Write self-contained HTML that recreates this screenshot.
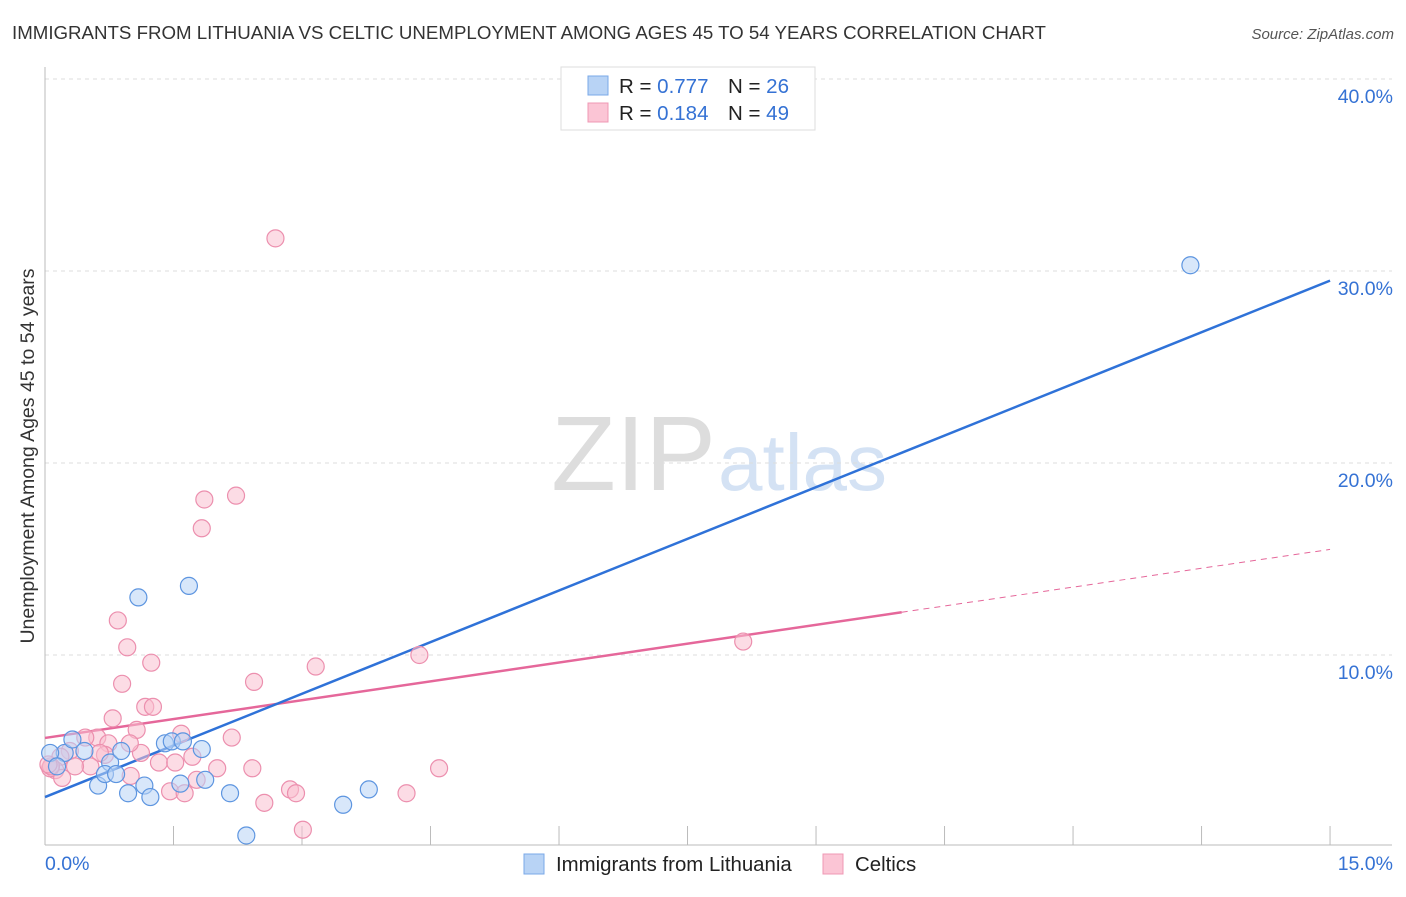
<!DOCTYPE html>
<html><head><meta charset="utf-8"><style>
body{margin:0;background:#fff;font-family:"Liberation Sans",sans-serif}
svg text{font-family:"Liberation Sans",sans-serif}
</style></head><body>
<svg id="chart" width="1406" height="892" xmlns="http://www.w3.org/2000/svg">
<text x="12" y="39" font-size="18.7" fill="#333">IMMIGRANTS FROM LITHUANIA VS CELTIC UNEMPLOYMENT AMONG AGES 45 TO 54 YEARS CORRELATION CHART</text>
<text x="1394" y="39" font-size="15" font-style="italic" fill="#555" text-anchor="end">Source: ZipAtlas.com</text>
<text transform="translate(34,456) rotate(-90)" font-size="19.5" fill="#333" text-anchor="middle">Unemployment Among Ages 45 to 54 years</text>
<text x="716" y="490" font-size="106" text-anchor="end" fill="#ddd" font-family="Liberation Serif">ZIP</text>
<text x="718" y="490" font-size="80" fill="#d4e2f4">atlas</text>
<g id="grid"></g><g id="axes"></g><g id="lines"></g><g id="pts"></g>
<g>
<rect x="561" y="67" width="254" height="63" fill="#fff" stroke="#ddd"/>
<rect x="588" y="76" width="20" height="19" fill="#b8d3f5" stroke="#7aa8e8"/>
<rect x="588" y="103" width="20" height="19" fill="#fbc5d5" stroke="#ef98b4"/>
<text x="619" y="93" font-size="20.5" fill="#222">R = <tspan fill="#3572d4">0.777</tspan></text>
<text x="728" y="93" font-size="20.5" fill="#222">N = <tspan fill="#3572d4">26</tspan></text>
<text x="619" y="120" font-size="20.5" fill="#222">R = <tspan fill="#3572d4"> 0.184</tspan></text>
<text x="728" y="120" font-size="20.5" fill="#222">N = <tspan fill="#3572d4">49</tspan></text>
</g>
<g>
<rect x="524" y="854" width="20" height="20" fill="#b8d3f5" stroke="#7aa8e8"/>
<text x="556" y="871" font-size="20.4" fill="#222">Immigrants from Lithuania</text>
<rect x="823" y="854" width="20" height="20" fill="#fbc5d5" stroke="#ef98b4"/>
<text x="855" y="871" font-size="20.4" fill="#222">Celtics</text>
</g>
</svg>
<script>
const blueX=[1.09,1.68,0.23,0.32,0.62,0.76,0.70,0.83,0.89,0.97,1.16,1.23,1.40,1.48,1.61,1.58,1.83,1.87,2.16,2.35,3.48,3.78,13.37,0.06,0.14,0.46];
const blueY=[13.0,13.6,4.9,5.6,3.2,4.4,3.8,3.8,5.0,2.8,3.2,2.6,5.4,5.5,5.5,3.3,5.1,3.5,2.8,0.6,2.2,3.0,30.3,4.9,4.2,5.0];
const pinkX=[2.69,2.23,1.86,1.83,0.85,0.96,1.24,0.90,2.44,3.16,4.37,8.15,0.79,1.17,1.26,1.07,1.59,0.61,0.47,0.74,2.18,1.12,1.33,1.72,0.70,0.64,0.29,0.18,0.12,0.06,0.20,0.53,1.52,1.00,2.01,2.42,4.6,1.46,1.63,1.77,2.56,2.86,2.93,4.22,3.01,0.07,0.04,0.35,0.99];
const pinkY=[31.7,18.3,18.1,16.6,11.8,10.4,9.6,8.5,8.6,9.4,10.0,10.7,6.7,7.3,7.3,6.1,5.9,5.7,5.7,5.4,5.7,4.9,4.4,4.7,4.8,4.9,5.0,4.7,4.0,4.1,3.6,4.2,4.4,3.7,4.1,4.1,4.1,2.9,2.8,3.5,2.3,3.0,2.8,2.8,0.9,4.2,4.3,4.2,5.4];
const xTicks=[0,1.5,3,4.5,6,7.5,9,10.5,12,13.5,15];
const yTicks=[10,20,30,40];
const yTickLabels=["10.0%","20.0%","30.0%","40.0%"];
const blueFit=[2.6,29.5];
const pinkFit=[5.68,15.5];
const pinkSolidEnd=10.0;
const NS="http://www.w3.org/2000/svg";
const X=v=>45+v*85.67, Y=v=>847-v*19.2;
function mk(tag,attrs,parent){const e=document.createElementNS(NS,tag);for(const k in attrs)e.setAttribute(k,attrs[k]);document.getElementById(parent).appendChild(e);return e;}
yTicks.forEach((t,i)=>{
 const l=mk('line',{x1:45,x2:1392,y1:Y(t),y2:Y(t),stroke:'#ddd','stroke-dasharray':'4,4'},'grid');
 
 
 const tx=mk('text',{x:1393,y:Y(t)+24,'font-size':19.5,fill:'#3572d4','text-anchor':'end'},'grid');
 tx.textContent=yTickLabels[i];
 
 
});
const ax=mk('line',{x1:45,x2:45,y1:67,y2:845,stroke:'#bbb'},'axes');


const bx=mk('line',{x1:45,x2:1392,y1:845,y2:845,stroke:'#bbb'},'axes');


xTicks.forEach(t=>{if(t>0){const l=mk('line',{x1:X(t),x2:X(t),y1:826,y2:845,stroke:'#bbb'},'axes');
 
 }});
const x0=mk('text',{x:45,y:870,'font-size':19.5,fill:'#3572d4'},'axes');x0.textContent='0.0%';


const x1=mk('text',{x:1393,y:870,'font-size':19.5,fill:'#3572d4','text-anchor':'end'},'axes');x1.textContent='15.0%';


function addPts(xs,ys,fill,stroke,name){xs.forEach((x,i)=>{const c=mk('circle',{cx:X(x),cy:Y(ys[i]),r:8.5,fill:fill,'fill-opacity':0.55,stroke:stroke,'stroke-width':1.2},'pts');
 
 });}
addPts(pinkX,pinkY,'#f9bfd0','#ec8fae','celtics-point');
addPts(blueX,blueY,'#b8d3f5','#5d95e0','lithuania-point');
const pm=pinkFit[0]+(pinkFit[1]-pinkFit[0])*pinkSolidEnd/15;
const p1=mk('line',{x1:X(0),y1:Y(pinkFit[0]),x2:X(pinkSolidEnd),y2:Y(pm),stroke:'#e5679a','stroke-width':2.5},'lines');


const p2=mk('line',{x1:X(pinkSolidEnd),y1:Y(pm),x2:X(15),y2:Y(pinkFit[1]),stroke:'#e5679a','stroke-width':1,'stroke-dasharray':'6,5'},'lines');


const b1=mk('line',{x1:X(0),y1:Y(blueFit[0]),x2:X(15),y2:Y(blueFit[1]),stroke:'#2f72d8','stroke-width':2.5},'lines');


</script>
</body></html>
